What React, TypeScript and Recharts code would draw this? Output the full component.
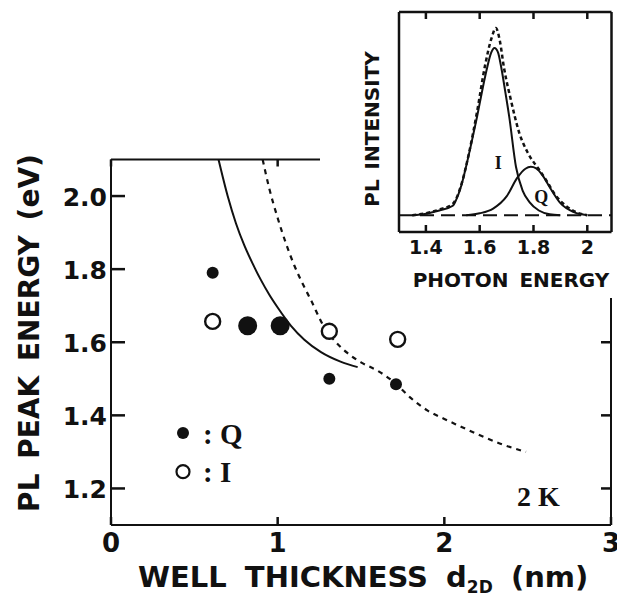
import React from 'react';
import { ComposedChart, Line, Scatter, XAxis, YAxis, ReferenceDot, ReferenceLine } from 'recharts';

// ---------- main chart data ----------
const xTicks = [0, 1, 2, 3];
const xTickLabels = ['0', '1', '2', '3'];
const yTicks = [1.2, 1.4, 1.6, 1.8, 2.0];
const yTickLabels = ['1.2', '1.4', '1.6', '1.8', '2.0'];

const qSmallX = [0.61, 1.31, 1.71];
const qSmallY = [1.79, 1.5, 1.485];
const qLargeX = [0.82, 1.015];
const qLargeY = [1.645, 1.645];
const iOpenX = [0.61, 1.31, 1.72];
const iOpenY = [1.657, 1.63, 1.608];

const solidX = [0.645, 0.7, 0.75, 0.8, 0.85, 0.9, 0.95, 1.0, 1.08, 1.16, 1.26, 1.377, 1.48];
const solidY = [2.1, 2.0, 1.925, 1.865, 1.815, 1.77, 1.73, 1.695, 1.645, 1.607, 1.573, 1.547, 1.532];

const dashedX = [0.91, 0.95, 1.0, 1.05, 1.1, 1.15, 1.2, 1.275, 1.35, 1.42, 1.5, 1.6, 1.7, 1.8, 1.9, 2.0, 2.1, 2.2, 2.35, 2.49];
const dashedY = [2.1, 2.02, 1.94, 1.87, 1.81, 1.76, 1.715, 1.645, 1.6, 1.57, 1.545, 1.522, 1.49, 1.447, 1.413, 1.39, 1.369, 1.348, 1.32, 1.3];

const legendLabels = ['Q', 'I'];
const legendX = [0.432, 0.432];
const legendY = [1.352, 1.246];
const tempLabel = '2 K';
const tempX = 2.436;
const tempY = 1.151;

// ---------- inset data ----------
const insetTicks = [1.4, 1.6, 1.8, 2.0];
const insetTickLabels = ['1.4', '1.6', '1.8', '2'];

const insetIX = [1.35, 1.4, 1.45, 1.5, 1.512, 1.53, 1.549, 1.57, 1.59, 1.61, 1.628, 1.642, 1.655, 1.668, 1.68, 1.695, 1.71, 1.735, 1.76, 1.785, 1.82, 1.86, 1.9];
const insetIY = [0.0, 0.008, 0.025, 0.05, 0.08, 0.15, 0.257, 0.39, 0.524, 0.67, 0.79, 0.865, 0.893, 0.87, 0.79, 0.66, 0.524, 0.257, 0.13, 0.07, 0.025, 0.005, 0.0];

const insetQX = [1.55, 1.6, 1.65, 1.7, 1.74, 1.77, 1.79, 1.81, 1.835, 1.86, 1.9, 1.95, 2.0];
const insetQY = [0.0, 0.01, 0.035, 0.1, 0.2, 0.248, 0.258, 0.25, 0.21, 0.15, 0.064, 0.016, 0.0];

const insetTotX = [1.35, 1.4, 1.45, 1.5, 1.53, 1.56, 1.59, 1.62, 1.645, 1.66, 1.675, 1.69, 1.716, 1.747, 1.78, 1.82, 1.85, 1.88, 1.92, 1.96, 2.0];
const insetTotY = [0.0, 0.01, 0.03, 0.06, 0.155, 0.33, 0.55, 0.8, 0.95, 1.0, 0.93, 0.79, 0.615, 0.44, 0.33, 0.245, 0.18, 0.11, 0.05, 0.015, 0.0];

const insetLabelI = { x: 1.669, y: 0.278, text: 'I' };
const insetLabelQ = { x: 1.829, y: 0.096, text: 'Q' };

const zip = (xs: number[], ys: number[]) => xs.map((x, i) => ({ x, y: ys[i] }));

const SANS = '"DejaVu Sans", Arial, sans-serif';
const SERIF = '"Liberation Serif", "DejaVu Serif", serif';
const INK = '#111';

// axis extents (domains)
const MAIN_X = [0, 3];
const MAIN_Y = [1.1, 2.1];
const INS_X = [1.3, 2.09];
const INS_Y = [-0.09, 1.085];

// ---------- tick renderers ----------
const LeftTick = (p: any) => (
  <g>
    <line x1={p.x} y1={p.y} x2={p.x + 14} y2={p.y} stroke={INK} strokeWidth={2.5} />
    <text x={p.x - 4} y={p.y + 1} textAnchor="end" dominantBaseline="central" fontFamily={SANS} fontWeight="bold" fontSize={25} fill={INK}>
      {yTickLabels[p.index]}
    </text>
  </g>
);
const BottomTick = (p: any) => (
  <g>
    <line x1={p.x} y1={p.y} x2={p.x} y2={p.y - 8} stroke={INK} strokeWidth={2.5} />
    <text x={p.x} y={p.y + 27} textAnchor="middle" fontFamily={SANS} fontWeight="bold" fontSize={26} fill={INK}>
      {xTickLabels[p.index]}
    </text>
  </g>
);
const InsetBottomTick = (p: any) => (
  <g>
    <line x1={p.x} y1={p.y} x2={p.x} y2={p.y - 7} stroke={INK} strokeWidth={2.5} />
    <text x={p.x} y={p.y + 22} textAnchor="middle" fontFamily={SANS} fontWeight="bold" fontSize={19} fill={INK}>
      {insetTickLabels[p.index]}
    </text>
  </g>
);
const Empty = () => <g />;

export default function App() {
  const solid = zip(solidX, solidY);
  const dashed = zip(dashedX, dashedY);
  const qSmall = zip(qSmallX, qSmallY);
  const qLarge = zip(qLargeX, qLargeY);
  const iOpen = zip(iOpenX, iOpenY);

  const insI = zip(insetIX, insetIY);
  const insQ = zip(insetQX, insetQY);
  const insT = zip(insetTotX, insetTotY);

  const axisLine = { stroke: INK, strokeWidth: 2 };

  // inward tick lengths expressed in axis units (7 px, 9 px)
  const mainTopTickLen = ((MAIN_Y[1] - MAIN_Y[0]) * 7) / 365.5;
  const mainRightTickLen = ((MAIN_X[1] - MAIN_X[0]) * 10) / 500;
  const insTopTickLen = ((INS_Y[1] - INS_Y[0]) * 7) / 220;

  return (
    <div style={{ position: 'absolute', left: 0, top: 0, width: 617, height: 599, background: '#fff', overflow: 'hidden' }}>
      <ComposedChart width={617} height={599} margin={{ top: 159.5, right: 6, bottom: 0, left: 0 }}>
        <XAxis
          dataKey="x"
          type="number"
          domain={MAIN_X}
          ticks={xTicks}
          allowDataOverflow
          height={74}
          axisLine={axisLine}
          tickLine={false}
          tickSize={0}
          tickMargin={0}
          tick={BottomTick}
          label={{
            content: () => (
              <text x={138} y={587} fontFamily={SANS} fontWeight="bold" fontSize={29} fill={INK} style={{ wordSpacing: 8 }}>
                WELL THICKNESS d<tspan fontSize={17} dy={6}>2D</tspan>
                <tspan dy={-6}> (nm)</tspan>
              </text>
            ),
          }}
        />
        <YAxis
          dataKey="y"
          type="number"
          domain={MAIN_Y}
          ticks={yTicks}
          allowDataOverflow
          width={111}
          axisLine={axisLine}
          tickLine={false}
          tickSize={0}
          tickMargin={0}
          tick={LeftTick}
          label={{
            content: () => (
              <text
                x={29}
                y={333}
                transform="rotate(-90 29 333)"
                textAnchor="middle"
                dominantBaseline="central"
                fontFamily={SANS}
                fontWeight="bold"
                fontSize={28}
                fill={INK}
                style={{ wordSpacing: 5 }}
              >
                PL PEAK ENERGY (eV)
              </text>
            ),
          }}
        />

        {/* top and right frame with inward ticks */}
        <ReferenceLine y={MAIN_Y[1]} stroke={INK} strokeWidth={2} ifOverflow="visible" />
        <ReferenceLine x={MAIN_X[1]} stroke={INK} strokeWidth={2} ifOverflow="visible" />
        {xTicks.map((t) => (
          <ReferenceLine
            key={`tt${t}`}
            ifOverflow="visible"
            stroke={INK}
            strokeWidth={2.5}
            segment={[{ x: t, y: MAIN_Y[1] }, { x: t, y: MAIN_Y[1] - mainTopTickLen }]}
          />
        ))}
        {yTicks.map((t) => (
          <ReferenceLine
            key={`rt${t}`}
            ifOverflow="visible"
            stroke={INK}
            strokeWidth={2.5}
            segment={[{ x: MAIN_X[1], y: t }, { x: MAIN_X[1] - mainRightTickLen, y: t }]}
          />
        ))}

        <Line data={solid} dataKey="y" type="monotone" stroke={INK} strokeWidth={2} dot={false} isAnimationActive={false} />
        <Line data={dashed} dataKey="y" type="monotone" stroke={INK} strokeWidth={2.2} strokeDasharray="5 5" dot={false} isAnimationActive={false} />

        <Scatter data={qSmall} dataKey="y" isAnimationActive={false}
          shape={(p: any) => <circle cx={p.cx} cy={p.cy} r={6} fill={INK} />} />
        <Scatter data={qLarge} dataKey="y" isAnimationActive={false}
          shape={(p: any) => <circle cx={p.cx} cy={p.cy} r={9.5} fill={INK} />} />
        <Scatter data={iOpen} dataKey="y" isAnimationActive={false}
          shape={(p: any) => <circle cx={p.cx} cy={p.cy} r={7.5} fill="#fff" stroke={INK} strokeWidth={2.4} />} />

        <ReferenceDot
          x={legendX[0]}
          y={legendY[0]}
          ifOverflow="visible"
          shape={(p: any) => (
            <g>
              <circle cx={p.cx} cy={p.cy} r={6} fill={INK} />
              <text x={p.cx + 20} y={p.cy + 11} fontFamily={SERIF} fontWeight="bold" fontSize={29} fill={INK}>
                : {legendLabels[0]}
              </text>
            </g>
          )}
        />
        <ReferenceDot
          x={legendX[1]}
          y={legendY[1]}
          ifOverflow="visible"
          shape={(p: any) => (
            <g>
              <circle cx={p.cx} cy={p.cy} r={6.5} fill="#fff" stroke={INK} strokeWidth={2.2} />
              <text x={p.cx + 20} y={p.cy + 10} fontFamily={SERIF} fontWeight="bold" fontSize={29} fill={INK}>
                : {legendLabels[1]}
              </text>
            </g>
          )}
        />
        <ReferenceDot
          x={tempX}
          y={tempY}
          ifOverflow="visible"
          shape={(p: any) => (
            <text x={p.cx} y={p.cy} fontFamily={SERIF} fontWeight="bold" fontSize={28} fill={INK}>
              {tempLabel}
            </text>
          )}
        />
      </ComposedChart>

      {/* inset */}
      <div style={{ position: 'absolute', left: 320, top: 0, width: 297, height: 298, background: '#fff' }}>
        <ComposedChart width={297} height={298} margin={{ top: 12, right: 5.5, bottom: 0, left: 0 }}>
          <XAxis
            dataKey="x"
            type="number"
            domain={INS_X}
            ticks={insetTicks}
            allowDataOverflow
            height={66}
            axisLine={{ stroke: INK, strokeWidth: 2.5 }}
            tickLine={false}
            tickSize={0}
            tickMargin={0}
            tick={InsetBottomTick}
            label={{
              content: () => (
                <text x={191} y={287} textAnchor="middle" fontFamily={SANS} fontWeight="bold" fontSize={20} fill={INK} style={{ wordSpacing: 4 }}>
                  PHOTON ENERGY
                </text>
              ),
            }}
          />
          <YAxis
            dataKey="y"
            type="number"
            domain={INS_Y}
            allowDataOverflow
            width={79}
            axisLine={{ stroke: INK, strokeWidth: 2.5 }}
            tickLine={false}
            tick={Empty}
            ticks={[]}
            label={{
              content: () => (
                <text
                  x={52}
                  y={129}
                  transform="rotate(-90 52 129)"
                  textAnchor="middle"
                  dominantBaseline="central"
                  fontFamily={SANS}
                  fontWeight="bold"
                  fontSize={20}
                  fill={INK}
                  style={{ wordSpacing: 3 }}
                >
                  PL INTENSITY
                </text>
              ),
            }}
          />
          <ReferenceLine y={INS_Y[1]} stroke={INK} strokeWidth={2.5} ifOverflow="visible" />
          <ReferenceLine x={INS_X[1]} stroke={INK} strokeWidth={2.5} ifOverflow="visible" />
          {insetTicks.map((t) => (
            <ReferenceLine
              key={`it${t}`}
              ifOverflow="visible"
              stroke={INK}
              strokeWidth={2.5}
              segment={[{ x: t, y: INS_Y[1] }, { x: t, y: INS_Y[1] - insTopTickLen }]}
            />
          ))}
          <ReferenceLine y={0} stroke={INK} strokeWidth={2} strokeDasharray="14 7" />

          <Line data={insI} dataKey="y" type="monotone" stroke={INK} strokeWidth={2} dot={false} isAnimationActive={false} />
          <Line data={insQ} dataKey="y" type="monotone" stroke={INK} strokeWidth={2} dot={false} isAnimationActive={false} />
          <Line data={insT} dataKey="y" type="monotone" stroke={INK} strokeWidth={2.5} strokeDasharray="4 3" dot={false} isAnimationActive={false} />

          <ReferenceDot
            x={insetLabelI.x}
            y={insetLabelI.y}
            ifOverflow="visible"
            shape={(p: any) => (
              <text x={p.cx} y={p.cy} textAnchor="middle" dominantBaseline="central" fontFamily={SERIF} fontWeight="bold" fontSize={18} fill={INK}>
                {insetLabelI.text}
              </text>
            )}
          />
          <ReferenceDot
            x={insetLabelQ.x}
            y={insetLabelQ.y}
            ifOverflow="visible"
            shape={(p: any) => (
              <text x={p.cx} y={p.cy} textAnchor="middle" dominantBaseline="central" fontFamily={SERIF} fontWeight="bold" fontSize={18} fill={INK}>
                {insetLabelQ.text}
              </text>
            )}
          />
        </ComposedChart>
      </div>
    </div>
  );
}
